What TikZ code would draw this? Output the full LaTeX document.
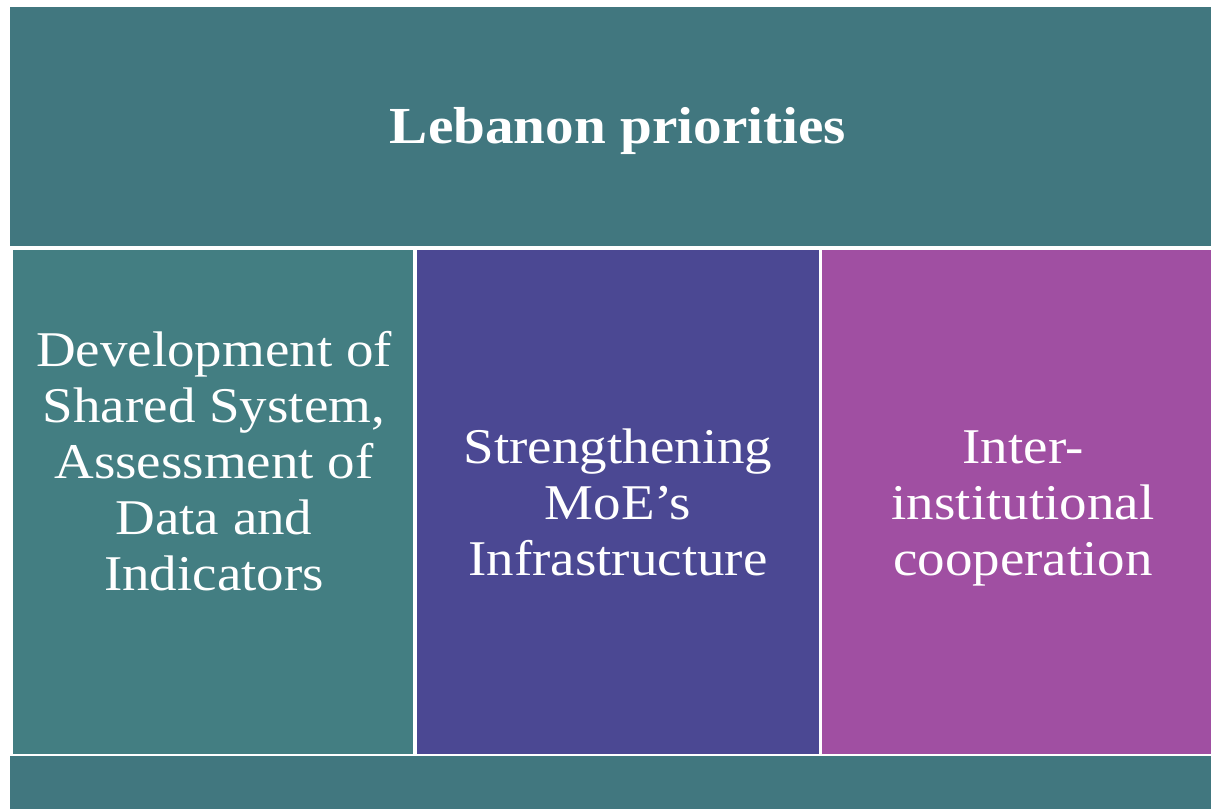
\documentclass[tikz,border=0pt]{standalone}
\usepackage{fontspec}
\setmainfont{Liberation Serif}[FakeStretch=1.1]
\usepackage{xcolor}
\definecolor{topteal}{RGB}{65,119,127}
\definecolor{leftteal}{RGB}{67,126,130}
\definecolor{infrablue}{RGB}{75,72,147}
\definecolor{coopviolet}{RGB}{160,79,162}

\begin{document}
\begin{tikzpicture}[x=1pt,y=-1pt,
    box/.style={rectangle, inner sep=0pt, outer sep=0pt},
    txt/.style={text=white, align=center, inner sep=0pt, font=\fontsize{50}{56}\selectfont}]
        \useasboundingbox (0,0) rectangle (1211,809);

        % Прямоугольники
        \node[box, fill=topteal, minimum width=1201, minimum height=239] (top) at (610.5,126.5){};
        \node[box, fill=leftteal, minimum width=400, minimum height=504] (dev) at (213,502){};
        \node[box, fill=infrablue, minimum width=402, minimum height=504] (infra) at (618,502){};
        \node[box, fill=coopviolet, minimum width=389, minimum height=504] (coop) at (1016.5,502){};
        \node[box, fill=topteal, minimum width=1201, minimum height=53] (bottom) at (610.5,782.5){};

        % Подписи
        \node[txt, font=\bfseries\fontsize{52}{58}\selectfont] (title) at (618,131) {Lebanon priorities};
        \node[txt] (devtext) at (214,461.5) {Development of\\Shared System,\\Assessment of\\Data and\\Indicators};
        \node[txt] (infratext) at (618,502.5) {Strengthening\\MoE’s\\Infrastructure};
        \node[txt] (cooptext) at (1023,508) {Inter-\\institutional\\cooperation};
    \end{tikzpicture}
\end{document}
